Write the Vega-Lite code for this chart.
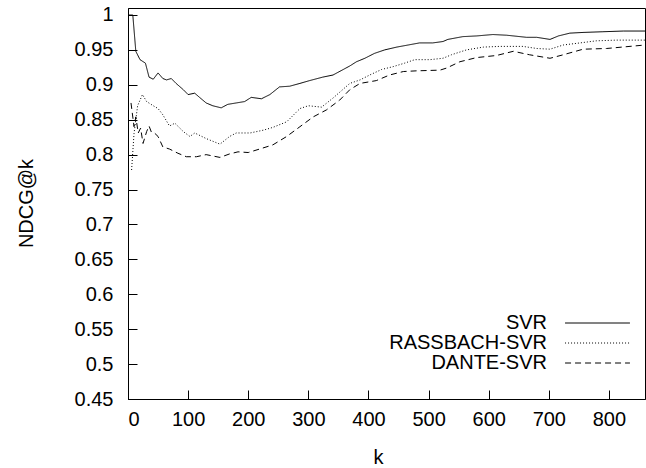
{
 "$schema": "https://vega.github.io/schema/vega-lite/v6.json",
 "width": 517,
 "height": 391,
 "autosize": {"type": "none"},
 "padding": {"left": 128, "top": 8, "right": 1, "bottom": 69},
 "background": "white",
 "config": {
  "view": {"stroke": "black", "strokeWidth": 1},
  "font": "Liberation Sans",
  "axis": {"domainColor": "black", "labelColor": "black", "titleColor": "black", "labelFont": "Liberation Sans", "titleFont": "Liberation Sans", "labelFontSize": 20, "titleFontSize": 20, "titleFontWeight": "normal", "domainWidth": 1, "ticks": true, "tickColor": "black", "tickSize": -9, "tickWidth": 1, "grid": false, "labelOverlap": false}
 },
 "datasets": {
  "curves": [
   {"k": 1, "ndcg": 1.0, "method": "SVR"}, {"k": 8, "ndcg": 1.0, "method": "SVR"}, {"k": 13, "ndcg": 0.948, "method": "SVR"}, {"k": 20, "ndcg": 0.936, "method": "SVR"}, {"k": 29, "ndcg": 0.931, "method": "SVR"}, {"k": 35, "ndcg": 0.911, "method": "SVR"}, {"k": 42, "ndcg": 0.908, "method": "SVR"}, {"k": 50, "ndcg": 0.917, "method": "SVR"}, {"k": 58, "ndcg": 0.909, "method": "SVR"}, {"k": 64, "ndcg": 0.907, "method": "SVR"}, {"k": 72, "ndcg": 0.909, "method": "SVR"}, {"k": 80, "ndcg": 0.902, "method": "SVR"}, {"k": 92, "ndcg": 0.893, "method": "SVR"}, {"k": 100, "ndcg": 0.886, "method": "SVR"}, {"k": 111, "ndcg": 0.888, "method": "SVR"}, {"k": 119, "ndcg": 0.882, "method": "SVR"}, {"k": 130, "ndcg": 0.874, "method": "SVR"}, {"k": 141, "ndcg": 0.870, "method": "SVR"}, {"k": 155, "ndcg": 0.867, "method": "SVR"}, {"k": 166, "ndcg": 0.872, "method": "SVR"}, {"k": 180, "ndcg": 0.874, "method": "SVR"}, {"k": 194, "ndcg": 0.876, "method": "SVR"}, {"k": 205, "ndcg": 0.882, "method": "SVR"}, {"k": 222, "ndcg": 0.880, "method": "SVR"}, {"k": 236, "ndcg": 0.886, "method": "SVR"}, {"k": 252, "ndcg": 0.897, "method": "SVR"}, {"k": 269, "ndcg": 0.898, "method": "SVR"}, {"k": 286, "ndcg": 0.902, "method": "SVR"}, {"k": 302, "ndcg": 0.906, "method": "SVR"}, {"k": 324, "ndcg": 0.911, "method": "SVR"}, {"k": 341, "ndcg": 0.914, "method": "SVR"}, {"k": 369, "ndcg": 0.927, "method": "SVR"}, {"k": 380, "ndcg": 0.933, "method": "SVR"}, {"k": 394, "ndcg": 0.938, "method": "SVR"}, {"k": 410, "ndcg": 0.945, "method": "SVR"}, {"k": 427, "ndcg": 0.950, "method": "SVR"}, {"k": 447, "ndcg": 0.954, "method": "SVR"}, {"k": 466, "ndcg": 0.957, "method": "SVR"}, {"k": 485, "ndcg": 0.960, "method": "SVR"}, {"k": 507, "ndcg": 0.960, "method": "SVR"}, {"k": 524, "ndcg": 0.962, "method": "SVR"}, {"k": 532, "ndcg": 0.965, "method": "SVR"}, {"k": 557, "ndcg": 0.969, "method": "SVR"}, {"k": 580, "ndcg": 0.970, "method": "SVR"}, {"k": 607, "ndcg": 0.972, "method": "SVR"}, {"k": 630, "ndcg": 0.971, "method": "SVR"}, {"k": 663, "ndcg": 0.968, "method": "SVR"}, {"k": 680, "ndcg": 0.968, "method": "SVR"}, {"k": 702, "ndcg": 0.965, "method": "SVR"}, {"k": 716, "ndcg": 0.970, "method": "SVR"}, {"k": 735, "ndcg": 0.974, "method": "SVR"}, {"k": 757, "ndcg": 0.975, "method": "SVR"}, {"k": 790, "ndcg": 0.976, "method": "SVR"}, {"k": 824, "ndcg": 0.977, "method": "SVR"}, {"k": 860, "ndcg": 0.977, "method": "SVR"},
   {"k": 6, "ndcg": 0.778, "method": "RASSBACH-SVR"}, {"k": 10, "ndcg": 0.830, "method": "RASSBACH-SVR"}, {"k": 16, "ndcg": 0.870, "method": "RASSBACH-SVR"}, {"k": 24, "ndcg": 0.886, "method": "RASSBACH-SVR"}, {"k": 31, "ndcg": 0.876, "method": "RASSBACH-SVR"}, {"k": 42, "ndcg": 0.870, "method": "RASSBACH-SVR"}, {"k": 50, "ndcg": 0.866, "method": "RASSBACH-SVR"}, {"k": 58, "ndcg": 0.857, "method": "RASSBACH-SVR"}, {"k": 69, "ndcg": 0.841, "method": "RASSBACH-SVR"}, {"k": 78, "ndcg": 0.845, "method": "RASSBACH-SVR"}, {"k": 92, "ndcg": 0.833, "method": "RASSBACH-SVR"}, {"k": 103, "ndcg": 0.826, "method": "RASSBACH-SVR"}, {"k": 111, "ndcg": 0.831, "method": "RASSBACH-SVR"}, {"k": 130, "ndcg": 0.823, "method": "RASSBACH-SVR"}, {"k": 153, "ndcg": 0.815, "method": "RASSBACH-SVR"}, {"k": 169, "ndcg": 0.826, "method": "RASSBACH-SVR"}, {"k": 180, "ndcg": 0.831, "method": "RASSBACH-SVR"}, {"k": 203, "ndcg": 0.831, "method": "RASSBACH-SVR"}, {"k": 225, "ndcg": 0.835, "method": "RASSBACH-SVR"}, {"k": 241, "ndcg": 0.839, "method": "RASSBACH-SVR"}, {"k": 264, "ndcg": 0.847, "method": "RASSBACH-SVR"}, {"k": 286, "ndcg": 0.866, "method": "RASSBACH-SVR"}, {"k": 300, "ndcg": 0.870, "method": "RASSBACH-SVR"}, {"k": 322, "ndcg": 0.868, "method": "RASSBACH-SVR"}, {"k": 341, "ndcg": 0.881, "method": "RASSBACH-SVR"}, {"k": 369, "ndcg": 0.902, "method": "RASSBACH-SVR"}, {"k": 386, "ndcg": 0.907, "method": "RASSBACH-SVR"}, {"k": 402, "ndcg": 0.914, "method": "RASSBACH-SVR"}, {"k": 422, "ndcg": 0.922, "method": "RASSBACH-SVR"}, {"k": 441, "ndcg": 0.926, "method": "RASSBACH-SVR"}, {"k": 460, "ndcg": 0.931, "method": "RASSBACH-SVR"}, {"k": 477, "ndcg": 0.936, "method": "RASSBACH-SVR"}, {"k": 502, "ndcg": 0.936, "method": "RASSBACH-SVR"}, {"k": 524, "ndcg": 0.938, "method": "RASSBACH-SVR"}, {"k": 538, "ndcg": 0.943, "method": "RASSBACH-SVR"}, {"k": 563, "ndcg": 0.950, "method": "RASSBACH-SVR"}, {"k": 591, "ndcg": 0.954, "method": "RASSBACH-SVR"}, {"k": 618, "ndcg": 0.955, "method": "RASSBACH-SVR"}, {"k": 657, "ndcg": 0.955, "method": "RASSBACH-SVR"}, {"k": 680, "ndcg": 0.952, "method": "RASSBACH-SVR"}, {"k": 702, "ndcg": 0.951, "method": "RASSBACH-SVR"}, {"k": 724, "ndcg": 0.957, "method": "RASSBACH-SVR"}, {"k": 752, "ndcg": 0.960, "method": "RASSBACH-SVR"}, {"k": 779, "ndcg": 0.963, "method": "RASSBACH-SVR"}, {"k": 813, "ndcg": 0.964, "method": "RASSBACH-SVR"}, {"k": 860, "ndcg": 0.964, "method": "RASSBACH-SVR"},
   {"k": 5, "ndcg": 0.874, "method": "DANTE-SVR"}, {"k": 10, "ndcg": 0.840, "method": "DANTE-SVR"}, {"k": 13, "ndcg": 0.854, "method": "DANTE-SVR"}, {"k": 17, "ndcg": 0.831, "method": "DANTE-SVR"}, {"k": 21, "ndcg": 0.838, "method": "DANTE-SVR"}, {"k": 25, "ndcg": 0.816, "method": "DANTE-SVR"}, {"k": 31, "ndcg": 0.833, "method": "DANTE-SVR"}, {"k": 35, "ndcg": 0.841, "method": "DANTE-SVR"}, {"k": 39, "ndcg": 0.832, "method": "DANTE-SVR"}, {"k": 44, "ndcg": 0.831, "method": "DANTE-SVR"}, {"k": 50, "ndcg": 0.826, "method": "DANTE-SVR"}, {"k": 58, "ndcg": 0.811, "method": "DANTE-SVR"}, {"k": 69, "ndcg": 0.808, "method": "DANTE-SVR"}, {"k": 83, "ndcg": 0.802, "method": "DANTE-SVR"}, {"k": 97, "ndcg": 0.797, "method": "DANTE-SVR"}, {"k": 114, "ndcg": 0.797, "method": "DANTE-SVR"}, {"k": 130, "ndcg": 0.800, "method": "DANTE-SVR"}, {"k": 153, "ndcg": 0.796, "method": "DANTE-SVR"}, {"k": 169, "ndcg": 0.801, "method": "DANTE-SVR"}, {"k": 183, "ndcg": 0.804, "method": "DANTE-SVR"}, {"k": 200, "ndcg": 0.803, "method": "DANTE-SVR"}, {"k": 219, "ndcg": 0.808, "method": "DANTE-SVR"}, {"k": 241, "ndcg": 0.814, "method": "DANTE-SVR"}, {"k": 264, "ndcg": 0.826, "method": "DANTE-SVR"}, {"k": 286, "ndcg": 0.840, "method": "DANTE-SVR"}, {"k": 308, "ndcg": 0.854, "method": "DANTE-SVR"}, {"k": 330, "ndcg": 0.864, "method": "DANTE-SVR"}, {"k": 352, "ndcg": 0.878, "method": "DANTE-SVR"}, {"k": 369, "ndcg": 0.893, "method": "DANTE-SVR"}, {"k": 386, "ndcg": 0.902, "method": "DANTE-SVR"}, {"k": 413, "ndcg": 0.906, "method": "DANTE-SVR"}, {"k": 435, "ndcg": 0.914, "method": "DANTE-SVR"}, {"k": 458, "ndcg": 0.919, "method": "DANTE-SVR"}, {"k": 480, "ndcg": 0.920, "method": "DANTE-SVR"}, {"k": 519, "ndcg": 0.921, "method": "DANTE-SVR"}, {"k": 530, "ndcg": 0.924, "method": "DANTE-SVR"}, {"k": 552, "ndcg": 0.933, "method": "DANTE-SVR"}, {"k": 580, "ndcg": 0.939, "method": "DANTE-SVR"}, {"k": 613, "ndcg": 0.942, "method": "DANTE-SVR"}, {"k": 641, "ndcg": 0.948, "method": "DANTE-SVR"}, {"k": 668, "ndcg": 0.943, "method": "DANTE-SVR"}, {"k": 702, "ndcg": 0.938, "method": "DANTE-SVR"}, {"k": 724, "ndcg": 0.943, "method": "DANTE-SVR"}, {"k": 757, "ndcg": 0.951, "method": "DANTE-SVR"}, {"k": 796, "ndcg": 0.952, "method": "DANTE-SVR"}, {"k": 860, "ndcg": 0.957, "method": "DANTE-SVR"}
  ]
 },
 "data": {"name": "curves"},
 "mark": {"type": "line", "clip": true, "color": "black", "strokeWidth": 1},
 "encoding": {
  "x": {"field": "k", "type": "quantitative", "scale": {"domain": [0, 860], "nice": false, "zero": false},
   "axis": {"orient": "bottom", "values": [0, 100, 200, 300, 400, 500, 600, 700, 800], "title": "k", "labelPadding": 19, "titleX": 250, "titleY": 64, "titleBaseline": "alphabetic", "titleAnchor": null}},
  "y": {"field": "ndcg", "type": "quantitative", "scale": {"domain": [0.45, 1.01], "nice": false, "zero": false},
   "axis": {"orient": "left", "values": [0.45, 0.5, 0.55, 0.6, 0.65, 0.7, 0.75, 0.8, 0.85, 0.9, 0.95, 1], "format": "~g", "title": "NDCG@k", "labelPadding": 24, "titleX": -96, "titleY": 195, "titleAngle": -90, "titleAlign": "center", "titleBaseline": "alphabetic"}},
  "strokeDash": {"field": "method", "type": "nominal",
   "scale": {"domain": ["SVR", "RASSBACH-SVR", "DANTE-SVR"], "range": [[1, 0], [1, 2], [6, 4]]},
   "legend": {"orient": "none", "legendX": 459.5, "legendY": 305, "title": null, "symbolType": "M-6,0H6", "symbolSize": 117, "symbolStrokeWidth": 1, "symbolStrokeColor": "black", "symbolFillColor": "transparent", "symbolOpacity": 1, "labelAlign": "right", "labelOffset": -60.5, "labelFontSize": 20, "labelFont": "Liberation Sans", "labelColor": "black", "rowPadding": 0, "padding": 0, "labelLimit": 0}}
 }
}
